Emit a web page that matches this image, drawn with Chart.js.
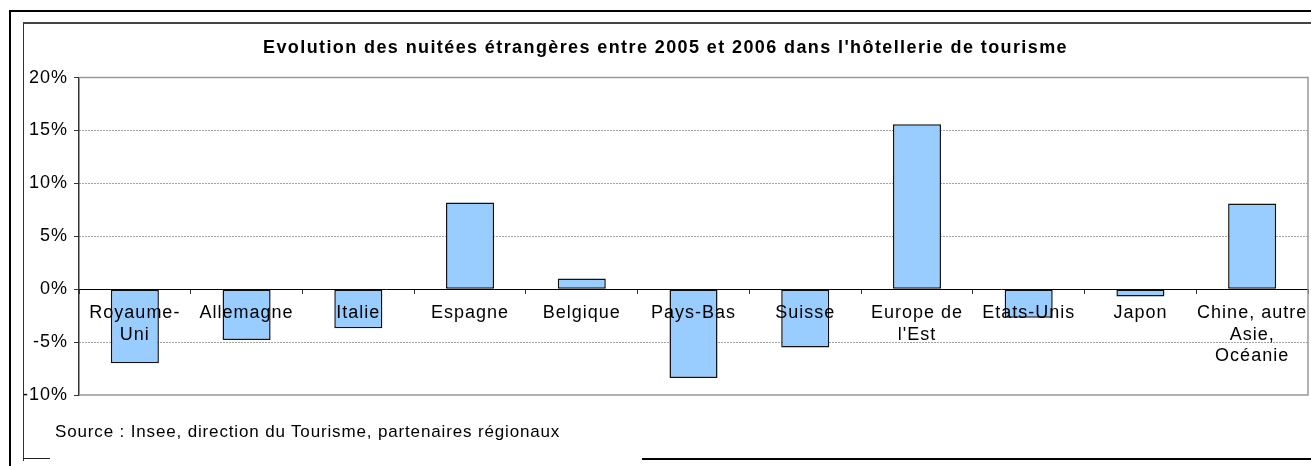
<!DOCTYPE html>
<html>
<head>
<meta charset="utf-8">
<script src="https://cdn.jsdelivr.net/npm/chart.js@4/dist/chart.umd.min.js"></script>
<style>
  body { margin: 0; background: #fff; }
  #wrap { position: relative; width: 1311px; height: 466px; overflow: hidden; }
  #box { position: absolute; left: 0; top: 0; width: 1311px; height: 466px; }
  .frame { position: absolute; pointer-events: none; }
  #outer { left: 9px; top: 10px; right: -5px; bottom: -5px; border-left: 2px solid #000; border-top: 2px solid #000; }
  #inner { left: 23px; top: 22px; right: -5px; height: 437px; border-left: 1px solid #333; border-top: 2px solid #444; }
  #bottomA { left: 23px; top: 458px; width: 27px; border-top: 1px solid #222; }
  #bottomB { left: 642px; top: 458px; right: 0; border-top: 2px solid #000; }
  #source { position: absolute; left: 55px; top: 422px; font: 17px "Liberation Sans", Arial, sans-serif; letter-spacing: 0.85px; color: #000; }
</style>
</head>
<body>
<div id="wrap">
  <div id="box"><canvas id="evolChart"></canvas></div>
  <div class="frame" id="outer"></div>
  <div class="frame" id="inner"></div>
  <div class="frame" id="bottomA"></div>
  <div class="frame" id="bottomB"></div>
  <div id="source">Source : Insee, direction du Tourisme, partenaires régionaux</div>
</div>
<script>
// Data
const countries = [
  ['Royaume-', 'Uni'], 'Allemagne', 'Italie', 'Espagne', 'Belgique', 'Pays-Bas',
  'Suisse', ['Europe de', "l'Est"], 'Etats-Unis', 'Japon', ['Chine, autre', 'Asie,', 'Océanie']
];
const evolution = [-7.0, -4.8, -3.7, 8.2, 1.0, -8.4, -5.5, 15.6, -2.7, -0.7, 8.1];
const yTicks = [-10, -5, 0, 5, 10, 15, 20];

// Plot area frame (grey top, right, bottom)
const plotFrame = {
  id: 'plotFrame',
  beforeDatasetsDraw(chart) {
    const a = chart.chartArea;
    const ctx = chart.ctx;
    ctx.save();
    ctx.strokeStyle = '#999';
    ctx.lineWidth = 1.5;
    ctx.beginPath();
    ctx.moveTo(a.left, a.top);
    ctx.lineTo(a.right, a.top);
    ctx.lineTo(a.right, a.bottom);
    ctx.lineTo(a.left, a.bottom);
    ctx.stroke();
    ctx.restore();
  }
};

// Slightly spaced lettering like the original export
const spacing = {
  id: 'spacing',
  beforeLayout(chart) {
    chart.ctx.letterSpacing = '1px';
    const tb = chart.titleBlock;
    if (tb && !tb._wrapped) {
      const orig = tb.draw.bind(tb);
      tb.draw = function() {
        const c = chart.ctx;
        const prev = c.letterSpacing;
        c.letterSpacing = '1.4px';
        orig();
        c.letterSpacing = prev;
      };
      tb._wrapped = true;
    }
  },
  beforeDraw(chart) {
    chart.ctx.letterSpacing = '1px';
  }
};

const ctx = document.getElementById('evolChart').getContext('2d');
new Chart(ctx, {
  type: 'bar',
  data: {
    labels: countries,
    datasets: [{
      data: evolution,
      backgroundColor: '#99ccff',
      borderColor: '#111',
      borderWidth: 1.5,
      borderSkipped: false,
      barPercentage: 0.43,
      categoryPercentage: 1
    }]
  },
  options: {
    responsive: true,
    maintainAspectRatio: false,
    animation: false,
    layout: { padding: { left: 23, right: 3, top: 0, bottom: 71 } },
    plugins: {
      legend: { display: false },
      tooltip: { enabled: false },
      title: {
        display: true,
        text: "Evolution des nuitées étrangères entre 2005 et 2006 dans l'hôtellerie de tourisme",
        color: '#000',
        font: { family: '"Liberation Sans", Arial, sans-serif', size: 18, weight: 'bold' },
        padding: { top: 37, bottom: 19 }
      }
    },
    scales: {
      x: {
        position: { y: 0 },
        offset: true,
        afterFit: (scale) => { scale.paddingLeft = 0; scale.paddingRight = 0; },
        grid: { display: true, drawOnChartArea: false, drawTicks: true, tickLength: 4, color: '#333', offset: true },
        border: { display: true, color: '#000', width: 1 },
        ticks: {
          z: 1,
          color: '#000',
          autoSkip: false,
          maxRotation: 0,
          padding: 9,
          font: { family: '"Liberation Sans", Arial, sans-serif', size: 18 }
        }
      },
      y: {
        min: yTicks[0],
        max: yTicks[yTicks.length - 1],
        afterBuildTicks: (scale) => { scale.ticks = yTicks.map(v => ({ value: v })); },
        afterFit: (scale) => { scale.width = 56; },
        grid: {
          color: (c) => (c.tick && (c.tick.value === 20 || c.tick.value === -10 || c.tick.value === 0)) ? 'rgba(0,0,0,0)' : '#444',
          lineWidth: 1,
          tickLength: 5,
          tickColor: '#333'
        },
        border: { display: true, color: '#333', width: 1.5, dash: [1, 2] },
        ticks: {
          color: '#000',
          padding: 6,
          font: { family: '"Liberation Sans", Arial, sans-serif', size: 18 },
          callback: (v) => v + '%'
        }
      }
    }
  },
  plugins: [plotFrame, spacing]
});
</script>
</body>
</html>
